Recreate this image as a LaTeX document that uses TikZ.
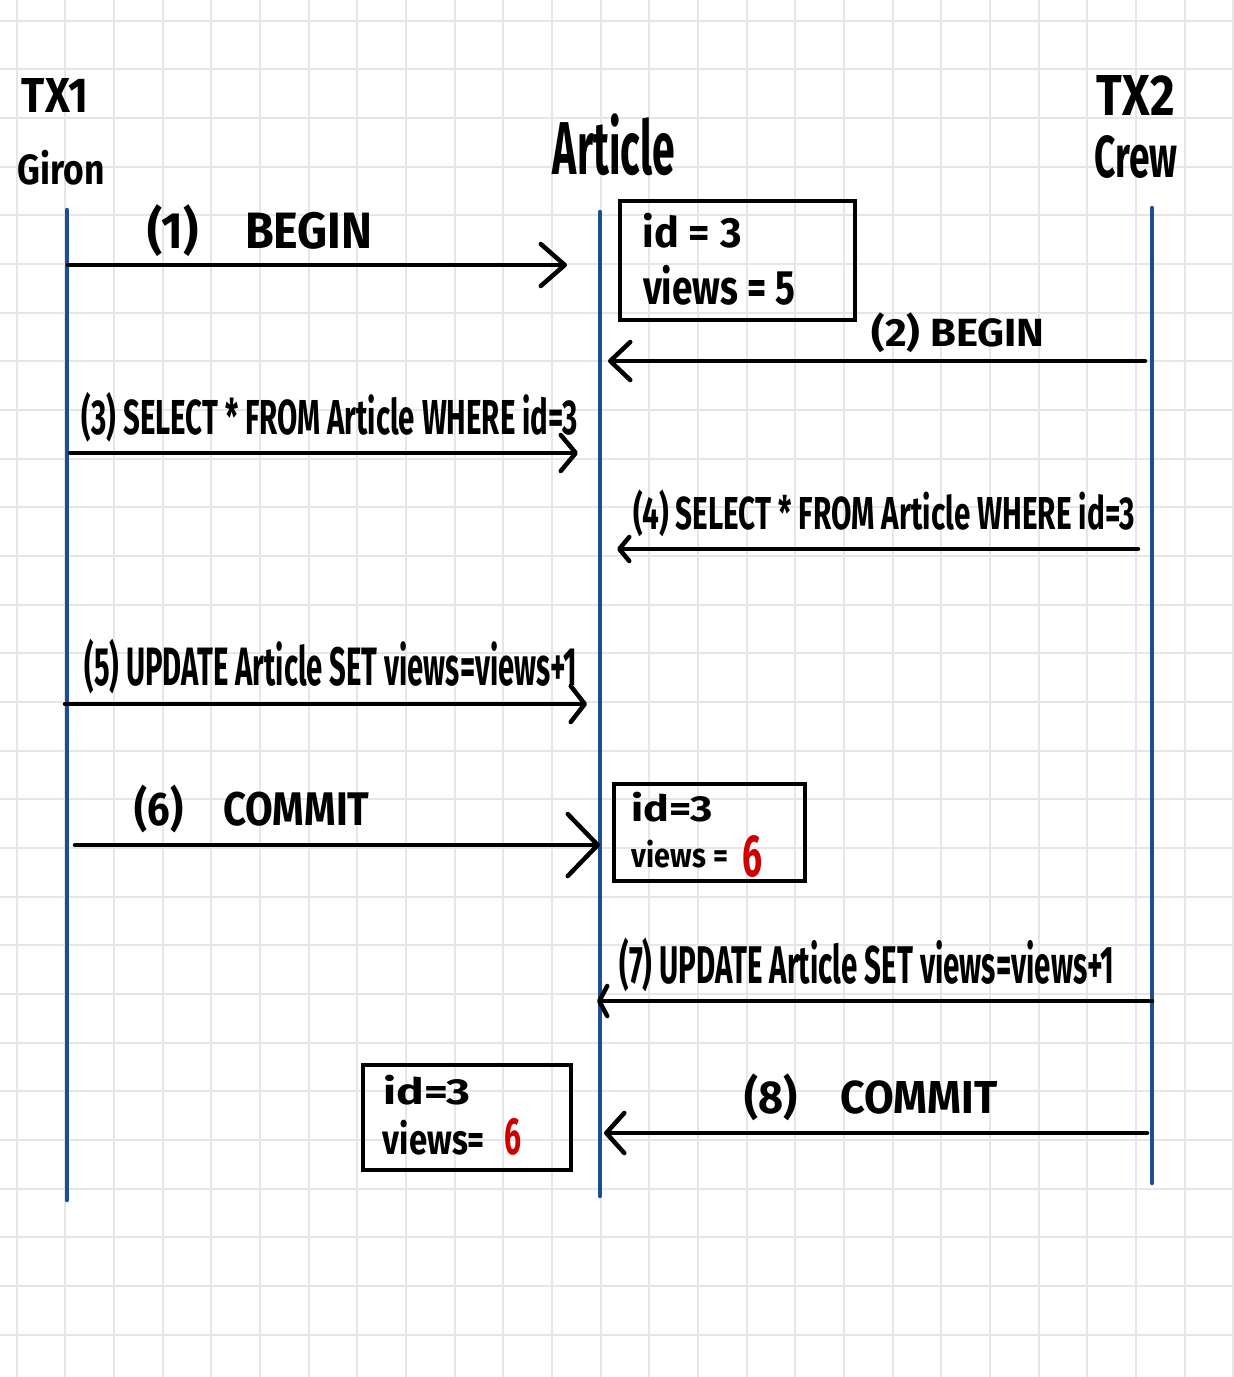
\documentclass[tikz,border=0pt]{standalone}
\usepackage{fontspec}
\setmainfont{Fira Sans}
\usepackage{graphicx}
\usetikzlibrary{arrows.meta}
\newcommand{\hw}[3]{\resizebox*{#1pt}{#2pt}{\bfseries #3}}
\definecolor{lifeblue}{HTML}{1B4F94}
\definecolor{gridgray}{HTML}{E6E6E6}
\definecolor{penred}{HTML}{D00000}
\tikzset{
  gridline/.style={draw=gridgray, line width=2pt},
  lifeline/.style={draw=lifeblue, line width=4.5pt, line cap=round},
  msg/.style 2 args={draw=black, line width=4.5pt, line cap=round,
     -{Straight Barb[length=#1pt,width=#2pt,round]}},
  valbox/.style={draw=black, line width=4pt},
  txt/.style={inner sep=0pt, outer sep=0pt, anchor=center, text=black},
  redtxt/.style={inner sep=0pt, outer sep=0pt, anchor=center, text=penred},
}
\begin{document}
\begin{tikzpicture}[x=1pt,y=-1pt]
\useasboundingbox (0,0) rectangle (1234,1377);
\fill[white] (0,0) rectangle (1234,1377);
% grid
\foreach \i in {0,...,25} \draw[gridline] ({16.7+48.67*\i},0) -- ({16.7+48.67*\i},1377);
\foreach \j in {0,...,28} \draw[gridline] (0,{20.7+48.67*\j}) -- (1234,{20.7+48.67*\j});

% headers
\node[txt] (tx1) at (55,95) {\hw{66}{34}{TX1}};
\node[txt] (giron) at (61,168) {\hw{87}{35}{Giron}};
\node[txt] (article) at (614,145) {\hw{122}{62}{Article}};
\node[txt] (tx2) at (1136,95) {\hw{78}{40}{TX2}};
\node[txt] (crew) at (1136,157) {\hw{83}{43}{Crew}};

% lifelines
\coordinate (l1top) at (67,210);  \coordinate (l1bot) at (67,1200);
\coordinate (lAtop) at (600,212); \coordinate (lAbot) at (600,1196);
\coordinate (l2top) at (1152,208); \coordinate (l2bot) at (1152,1183);
\draw[lifeline] (l1top) -- (l1bot);
\draw[lifeline] (lAtop) -- (lAbot);
\draw[lifeline] (l2top) -- (l2bot);

% boxes
\node[valbox, minimum width=235pt, minimum height=119pt, inner sep=0pt] (boxA) at (737.5,260.5) {};
\node[txt] (boxAid) at (692,231) {\hw{99}{35}{id = 3}};
\node[txt] (boxAviews) at (719,285) {\hw{152}{40}{views = 5}};

\node[valbox, minimum width=191pt, minimum height=97pt, inner sep=0pt] (boxB) at (709.5,832.5) {};
\node[txt] (boxBid) at (672,807) {\hw{81}{30}{id=3}};
\node[txt] (boxBviews) at (680,854) {\hw{96}{28}{views =}};
\node[redtxt] (boxBsix) at (752,856) {\hw{20}{42}{6}};

\node[valbox, minimum width=208pt, minimum height=105pt, inner sep=0pt] (boxC) at (467,1117.5) {};
\node[txt] (boxCid) at (427,1090) {\hw{87}{30}{id=3}};
\node[txt] (boxCviews) at (434,1138) {\hw{102}{35}{views=}};
\node[redtxt] (boxCsix) at (513,1137) {\hw{17}{37}{6}};

% messages
\coordinate (m1s) at (68,265);   \coordinate (m1e) at (567,265);
\coordinate (m2s) at (1145,361); \coordinate (m2e) at (608,361);
\coordinate (m3s) at (70,453);   \coordinate (m3e) at (578,453);
\coordinate (m4s) at (1138,549); \coordinate (m4e) at (617,549);
\coordinate (m5s) at (65,704);   \coordinate (m5e) at (587,704);
\coordinate (m6s) at (75,845);   \coordinate (m6e) at (600,845);
\coordinate (m7s) at (1152,1001); \coordinate (m7e) at (597,1001);
\coordinate (m8s) at (1147,1133); \coordinate (m8e) at (604,1133);

\draw[msg={24}{42}] (m1s) -- (m1e);
\draw[msg={20}{38}] (m2s) -- (m2e);
\draw[msg={15}{36}] (m3s) -- (m3e);
\draw[msg={10}{24}] (m4s) -- (m4e);
\draw[msg={14}{36}] (m5s) -- (m5e);
\draw[msg={30}{62}] (m6s) -- (m6e);
\draw[msg={8}{30}] (m7s) -- (m7e);
\draw[msg={18}{40}] (m8s) -- (m8e);

% labels
\node[txt] (t1) at (260,231) {\hw{225}{52}{(1)\quad BEGIN}};
\node[txt] (t2) at (958,333) {\hw{173}{40}{(2) BEGIN}};
\node[txt] (t3) at (330,417) {\hw{496}{50}{(3) SELECT * FROM Article WHERE id=3}};
\node[txt] (t4) at (884,513) {\hw{502}{47}{(4) SELECT * FROM Article WHERE id=3}};
\node[txt] (t5) at (331,667) {\hw{493}{55}{(5) UPDATE Article SET views=views+1}};
\node[txt] (t6) at (252,809) {\hw{235}{48}{(6)\quad COMMIT}};
\node[txt] (t7) at (867,965) {\hw{495}{54}{(7) UPDATE Article SET views=views+1}};
\node[txt] (t8) at (871,1097) {\hw{253}{47}{(8)\quad COMMIT}};
\end{tikzpicture}
\end{document}
